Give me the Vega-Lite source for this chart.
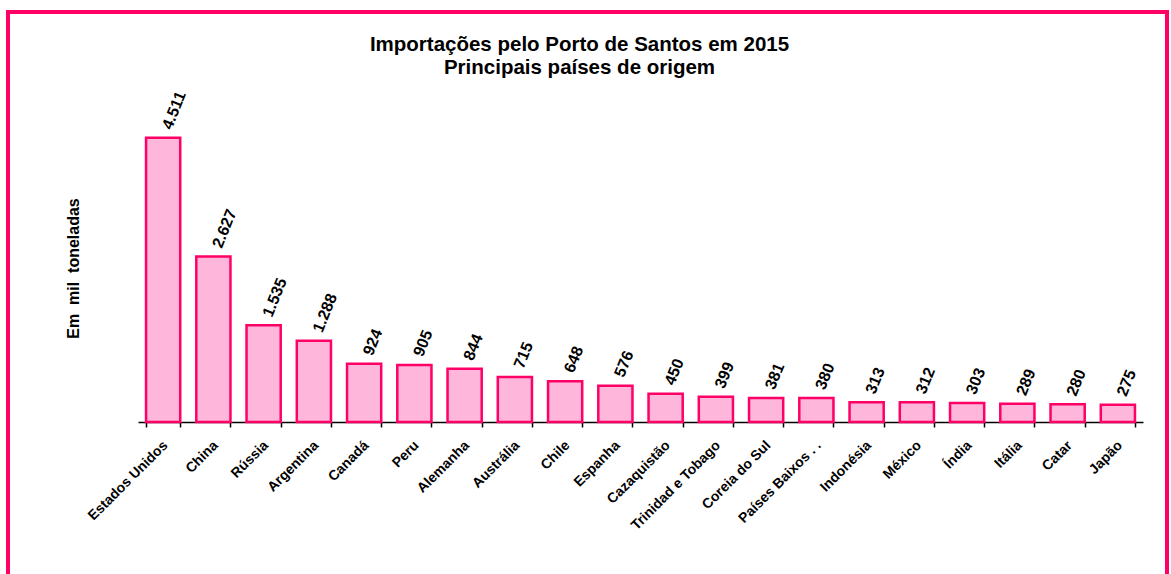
{
  "$schema": "https://vega.github.io/schema/vega-lite/v6.json",
  "width": 1159,
  "height": 566,
  "autosize": "none",
  "padding": {"left": 8, "top": 12, "right": 4, "bottom": 0},
  "background": "white",
  "config": {
    "view": {"stroke": "#FF0066", "strokeWidth": 4},
    "font": "Liberation Sans",
    "locale": {"number": {"decimal": ",", "thousands": ".", "grouping": [3], "currency": ["R$", ""]}}
  },
  "title": {
    "text": ["Importações pelo Porto de Santos em 2015", "Principais países de origem"],
    "fontSize": 20.5,
    "font": "Liberation Sans",
    "fontWeight": "bold",
    "color": "black",
    "anchor": "middle",
    "baseline": "top",
    "offset": -66,
    "lineHeight": 23,
    "dx": -8
  },
  "data": {
    "values": [
      {"pais": "Estados Unidos", "valor": 4511},
      {"pais": "China", "valor": 2627},
      {"pais": "Rússia", "valor": 1535},
      {"pais": "Argentina", "valor": 1288},
      {"pais": "Canadá", "valor": 924},
      {"pais": "Peru", "valor": 905},
      {"pais": "Alemanha", "valor": 844},
      {"pais": "Austrália", "valor": 715},
      {"pais": "Chile", "valor": 648},
      {"pais": "Espanha", "valor": 576},
      {"pais": "Cazaquistão", "valor": 450},
      {"pais": "Trinidad e Tobago", "valor": 399},
      {"pais": "Coreia do Sul", "valor": 381},
      {"pais": "Países Baixos . .", "valor": 380},
      {"pais": "Indonésia", "valor": 313},
      {"pais": "México", "valor": 312},
      {"pais": "Índia", "valor": 303},
      {"pais": "Itália", "valor": 289},
      {"pais": "Catar", "valor": 280},
      {"pais": "Japão", "valor": 275}
    ]
  },
  "encoding": {
    "x": {
      "field": "pais",
      "type": "nominal",
      "sort": null,
      "scale": {"range": [130, 1135], "paddingInner": 0.32, "paddingOuter": 0.16},
      "axis": {
        "orient": "bottom",
        "offset": -156,
        "title": null,
        "grid": false,
        "domainColor": "black",
        "domainWidth": 1.5,
        "tickColor": "black",
        "tickWidth": 1.5,
        "tickSize": 5,
        "tickBand": "extent",
        "labelAngle": -45,
        "labelAlign": "right",
        "labelBaseline": "top",
        "labelPadding": 11,
        "labelOffset": -3,
        "labelFontSize": 14,
        "labelFontWeight": "bold",
        "labelColor": "black",
        "labelFont": "Liberation Sans"
      }
    },
    "y": {
      "field": "valor",
      "type": "quantitative",
      "scale": {"domain": [0, 5000], "range": [410, 95], "nice": false, "zero": true},
      "axis": {
        "domain": false,
        "ticks": false,
        "labels": false,
        "grid": false,
        "title": "Em\u00a0\u00a0mil\u00a0\u00a0toneladas",
        "titleX": 65,
        "titleY": 256,
        "titleAngle": -90,
        "titleAlign": "center",
        "titleBaseline": "middle",
        "titleFontSize": 16,
        "titleFontWeight": "bold",
        "titleColor": "black",
        "titleFont": "Liberation Sans"
      }
    }
  },
  "layer": [
    {
      "mark": {"type": "bar", "fill": "#FFB6DB", "stroke": "#FF0066", "strokeWidth": 2.5}
    },
    {
      "mark": {
        "type": "text",
        "angle": 292,
        "align": "left",
        "baseline": "middle",
        "dx": 10,
        "fontSize": 16,
        "fontWeight": "bold",
        "color": "black",
        "font": "Liberation Sans"
      },
      "encoding": {
        "text": {"field": "valor", "type": "quantitative", "format": ",d"}
      }
    }
  ]
}
